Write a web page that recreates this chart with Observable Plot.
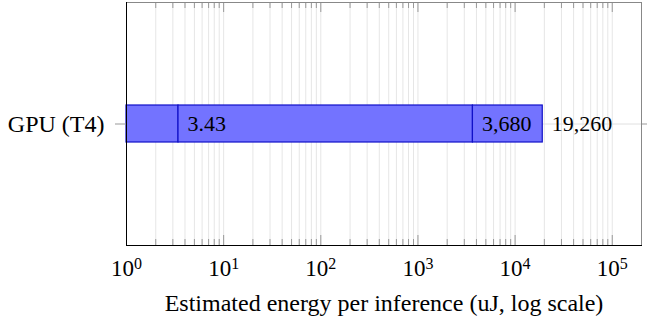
<!DOCTYPE html>
<html><head><meta charset="utf-8">
<script src="https://cdn.jsdelivr.net/npm/d3@7"></script>
<script src="https://cdn.jsdelivr.net/npm/@observablehq/plot@0.6"></script>
<style>
body{margin:0;background:#fff}
#chart svg, #chart svg text, #chart svg tspan { font-family: "Liberation Serif", "Times New Roman", serif !important; }
</style>
</head><body><div id="chart"></div>
<script>
const categories = ["GPU (T4)"];
const segmentStarts = [1, 3.43, 3680];
const segmentEnds = [3.43, 3680, 19260];
const barLabels = ["3.43", "3,680", "19,260"];
const majorTicks = [1, 10, 100, 1000, 10000, 100000];
const tickLabels = ["10^0", "10^1", "10^2", "10^3", "10^4", "10^5"];
const xDomain = [1, 2e5];
const xLabel = "Estimated energy per inference (uJ, log scale)";

const segments = segmentStarts.map((s, i) => ({cat: categories[0], x1: s, x2: segmentEnds[i], label: barLabels[i]}));
const minorTicks = d3.range(0, 6).flatMap(e => d3.range(2, 10).map(m => m * 10 ** e)).filter(v => v < xDomain[1]);
const allTicks = [...majorTicks, ...minorTicks];

const W = 647, H = 320, mt = 2, mb = 75, ml = 126, mr = 6;
const innerH = H - mt - mb;
const serif = "Liberation Serif";

const plot = Plot.plot({
  width: W, height: H, marginTop: mt, marginBottom: mb, marginLeft: ml, marginRight: mr,
  style: {fontFamily: serif, fontSize: "22px", background: "white", color: "black"},
  x: {type: "log", domain: xDomain},
  y: {domain: categories, paddingInner: 0, paddingOuter: 2.78, label: null},
  marks: [
    Plot.ruleX(allTicks, {x: d => d, stroke: "#e6e6e6", strokeWidth: 1}),
    Plot.ruleY(categories, {y: d => d, stroke: "#e0e0e0"}),
    Plot.tickX(minorTicks, {x: d => d, stroke: "#999", insetTop: innerH - 6}),
    Plot.tickX(minorTicks, {x: d => d, stroke: "#999", insetBottom: innerH - 6}),
    Plot.tickX(majorTicks, {x: d => d, stroke: "#999", insetTop: innerH - 10}),
    Plot.tickX(majorTicks, {x: d => d, stroke: "#999", insetBottom: innerH - 10}),
    Plot.barX(segments, {y: "cat", x1: "x1", x2: "x2", fill: "#7373ff", stroke: "#1010c8", strokeWidth: 1.2}),
    Plot.text(segments, {y: "cat", x: "x2", text: "label", dx: 9, textAnchor: "start", fontSize: 22, fontFamily: serif}),
    Plot.frame({stroke: "#888"}),
    Plot.frame({anchor: "left", stroke: "black"}),
    Plot.frame({anchor: "bottom", stroke: "black"}),
    Plot.axisX({ticks: majorTicks, tickSize: 0, tickPadding: 14, fontSize: 23, fontFamily: serif, label: null,
      tickFormat: d => tickLabels[majorTicks.indexOf(d)]}),
    Plot.axisY({anchor: "left", tickSize: 11, tickPadding: 11, stroke: "#999", fontSize: 24, fontFamily: serif, label: null}),
    Plot.axisY({anchor: "right", tickSize: 6, stroke: "#999", tickFormat: () => "", label: null}),
    Plot.text([xLabel], {frameAnchor: "bottom", dy: 65, lineAnchor: "bottom", fontSize: 24, fontFamily: serif, text: d => d})
  ]
});

d3.select(plot).selectAll('g[aria-label="x-axis tick label"] text').each(function () {
  const t = this.textContent;
  const [base, exp] = t.split("^");
  const sel = d3.select(this);
  sel.text(null);
  sel.append("tspan").text(base);
  sel.append("tspan").attr("dy", "-0.45em").attr("font-size", "16px").text(exp);
});

document.getElementById("chart").appendChild(plot);
</script>
</body></html>
